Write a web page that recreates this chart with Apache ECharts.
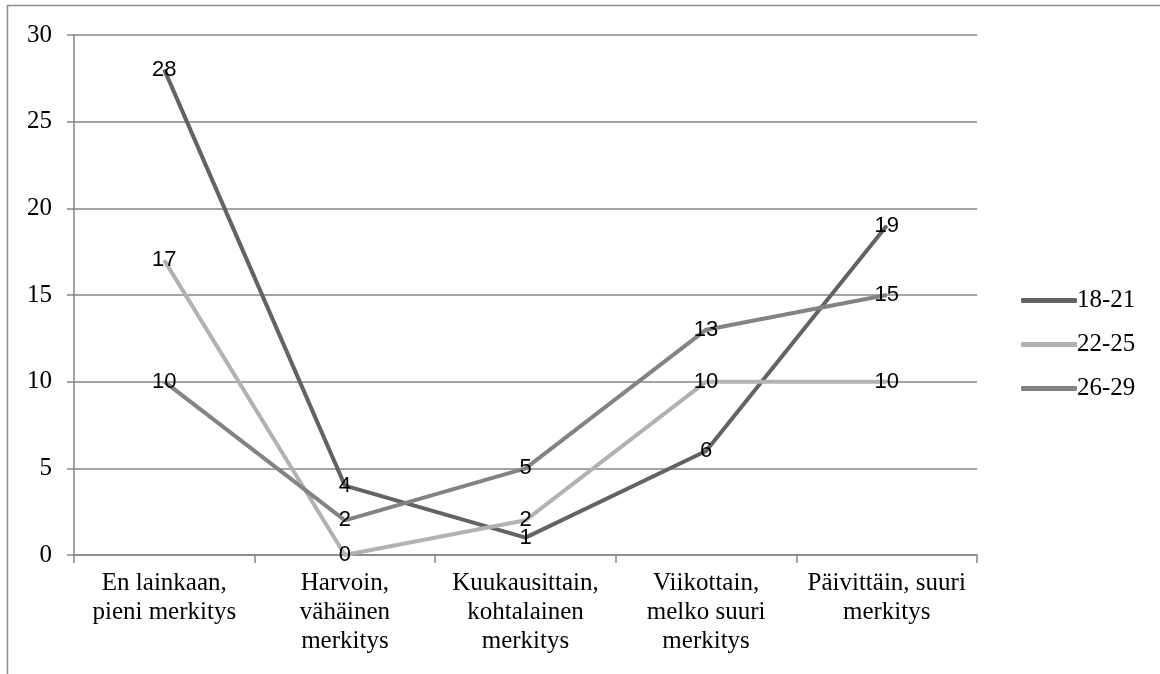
<!DOCTYPE html>
<html>
<head>
<meta charset="utf-8">
<script src="https://cdn.jsdelivr.net/npm/echarts@6/dist/echarts.min.js"></script>
<style>
html,body{margin:0;padding:0;background:#fff;}
#main{width:1160px;height:674px;}
</style>
</head>
<body>
<div id="main"></div>
<script>
const categories = [
  "En lainkaan,\npieni merkitys",
  "Harvoin,\nvähäinen\nmerkitys",
  "Kuukausittain,\nkohtalainen\nmerkitys",
  "Viikottain,\nmelko suuri\nmerkitys",
  "Päivittäin, suuri\nmerkitys"
];
const seriesNames = ["18-21", "22-25", "26-29"];
const values1821 = [28, 4, 1, 6, 19];
const values2225 = [17, 0, 2, 10, 10];
const values2629 = [10, 2, 5, 13, 15];
const seriesColors = ["#636363", "#b2b2b2", "#838383"];

const chart = echarts.init(document.getElementById('main'));
const serif = '"Liberation Serif", "Times New Roman", serif';
const sans = '"Liberation Sans", Arial, sans-serif';

function mk(name, data, color) {
  return {
    name: name,
    type: 'line',
    data: data,
    symbol: 'circle',
    symbolSize: 1,
    showSymbol: true,
    itemStyle: { color: color },
    lineStyle: { color: color, width: 4 },
    label: {
      show: true,
      position: 'inside',
      color: '#000',
      fontFamily: sans,
      fontSize: 22
    },
    emphasis: { disabled: true },
    animation: false
  };
}

chart.setOption({
  backgroundColor: '#fff',
  animation: false,
  graphic: [{
    type: 'rect',
    shape: { x: 7.5, y: 5.5, width: 2000, height: 2000 },
    style: { fill: 'none', stroke: '#8c8c8c', lineWidth: 1.5 },
    silent: true
  }],
  grid: { left: 74, right: 183, top: 35, bottom: 119 },
  legend: {
    orient: 'vertical',
    left: 1016,
    top: 283,
    itemWidth: 56,
    itemHeight: 5,
    itemGap: 19,
    icon: 'roundRect',
    textStyle: { fontFamily: serif, fontSize: 25, lineHeight: 25, color: '#000', padding: [0, 0, 0, -5] },
    data: seriesNames.map((n, i) => ({ name: n, itemStyle: { color: seriesColors[i] } }))
  },
  xAxis: {
    type: 'category',
    data: categories,
    boundaryGap: true,
    axisLine: { lineStyle: { color: '#868686', width: 1.5 } },
    axisTick: { show: true, length: 8, alignWithLabel: false, lineStyle: { color: '#868686', width: 1.5 } },
    axisLabel: {
      fontFamily: serif, fontSize: 25, color: '#000', lineHeight: 29, margin: 14,
      interval: 0, align: 'center'
    },
    splitLine: { show: false }
  },
  yAxis: {
    type: 'value',
    min: 0, max: 30, interval: 5,
    axisLine: { show: true, lineStyle: { color: '#868686', width: 1.5 } },
    axisTick: { show: true, length: 7, lineStyle: { color: '#868686', width: 1.5 } },
    axisLabel: { fontFamily: serif, fontSize: 25, color: '#000', margin: 22 },
    splitLine: { show: true, lineStyle: { color: '#868686', width: 1.5 } }
  },
  series: [
    mk(seriesNames[0], values1821, seriesColors[0]),
    mk(seriesNames[1], values2225, seriesColors[1]),
    mk(seriesNames[2], values2629, seriesColors[2])
  ]
});
</script>
</body>
</html>
